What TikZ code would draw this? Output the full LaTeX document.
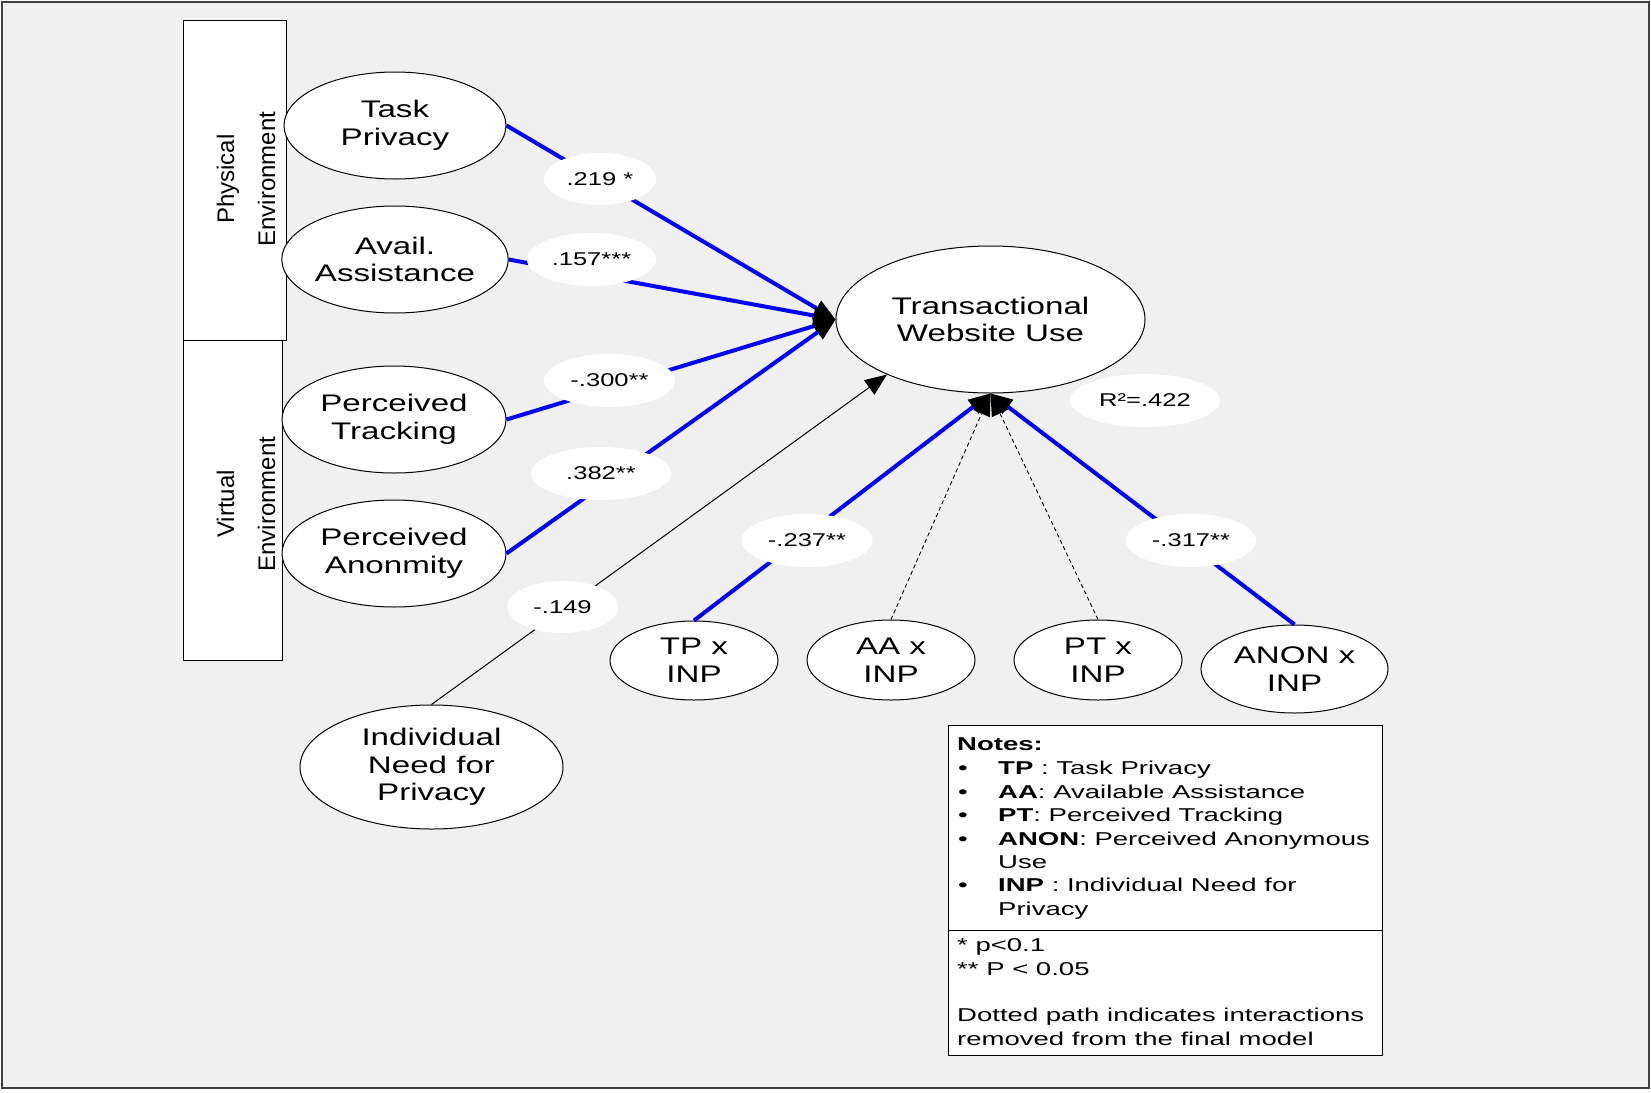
\documentclass[tikz,border=0pt]{standalone}
\usepackage{fontspec}
\setmainfont{Liberation Sans}[FakeStretch=1.38]
\newfontfamily\notefont{Liberation Sans}[FakeStretch=1.48]
\newfontfamily\rotfont{Liberation Sans}
\usetikzlibrary{shapes.geometric,arrows.meta}
\definecolor{bg}{HTML}{F0F0F0}
\definecolor{pathblue}{HTML}{0000FF}
\tikzset{
  construct/.style={draw=black, line width=1pt, fill=white, ellipse, inner sep=0pt, align=center,
    font=\fontsize{24}{27.7}\selectfont},
  coef/.style={fill=white, ellipse, inner sep=0pt, font=\fontsize{18.5}{22}\selectfont},
  envbox/.style={draw=black, line width=1pt, fill=white, inner sep=0pt, anchor=north west},
  envlabel/.style={rotate=90, align=center, inner sep=0pt, font=\rotfont\fontsize{24}{41}\selectfont},
  headtip/.style={-{Triangle[length=22pt,width=18pt,line width=0pt,black]}},
  sigpath/.style={draw=pathblue, line width=4pt, headtip},
  nspath/.style={draw=black, line width=1pt, headtip},
  droppath/.style={draw=black, line width=0.9pt, dash pattern=on 4pt off 3pt, headtip},
  note/.style={anchor=base west, inner sep=0pt, font=\notefont\fontsize{18.6}{23.4}\selectfont},
  notebox/.style={draw=black, line width=1pt, fill=white, inner sep=0pt, anchor=north west},
}
\begin{document}
\begin{tikzpicture}[x=1pt,y=-1pt]
\useasboundingbox (0,0) rectangle (1651,1092);
\fill[white] (0,0) rectangle (1651,1092);
\draw[fill=bg, draw=black!75, line width=2.5pt] (2,2) rectangle (1649,1088);

% environment boxes
\node[envbox, minimum width=103.5pt, minimum height=320.5pt] (physbox) at (182.5,19.5) {};
\node[envbox, minimum width=99.5pt, minimum height=320pt] (virtbox) at (182.5,340) {};
\node[envlabel] (physlabel) at (246,179) {Physical\\Environment};
\node[envlabel] (virtlabel) at (246,504) {Virtual\\Environment};

% constructs
\node[construct, minimum width=222pt, minimum height=107pt] (tp) at (395,125.5) {Task\\Privacy};
\node[construct, minimum width=221pt, minimum height=107pt] (aa) at (395,259.5) {Avail.\\Assistance};
\node[construct, minimum width=224pt, minimum height=107pt] (ptr) at (394,419.5) {Perceived\\Tracking};
\node[construct, minimum width=224pt, minimum height=107pt] (pa) at (394,553.5) {Perceived\\Anonmity};
\node[construct, minimum width=263pt, minimum height=124pt] (inp) at (431.5,767) {Individual\\Need for\\Privacy};
\node[construct, minimum width=309pt, minimum height=147pt] (tw) at (990.5,319.5) {Transactional\\Website Use};
\node[construct, minimum width=168pt, minimum height=79pt] (tpinp) at (694,660.5) {TP x\\INP};
\node[construct, minimum width=168pt, minimum height=80pt] (aainp) at (891,660) {AA x\\INP};
\node[construct, minimum width=168pt, minimum height=80pt] (ptinp) at (1098,660) {PT x\\INP};
\node[construct, minimum width=187pt, minimum height=88pt] (aninp) at (1294.5,669) {ANON x\\INP};

% paths
\draw[sigpath] (tp.east) -- (tw.west);
\draw[sigpath] (aa.east) -- (tw.west);
\draw[sigpath] (ptr.east) -- (tw.west);
\draw[sigpath] (pa.east) -- (tw.west);
\draw[nspath] (inp.north) -- (tw.208);
\draw[sigpath] (tpinp.north) -- (tw.south);
\draw[droppath] (aainp.north) -- (tw.south);
\draw[droppath] (ptinp.north) -- (tw.south);
\draw[sigpath] (aninp.north) -- (tw.south);

% coefficients
\node[coef, minimum width=112pt, minimum height=52pt] (c1) at (600,179) {.219 *};
\node[coef, minimum width=129pt, minimum height=53pt] (c2) at (591.5,259.5) {.157***};
\node[coef, minimum width=131pt, minimum height=53pt] (c3) at (609.5,380.5) {-.300**};
\node[coef, minimum width=140pt, minimum height=53pt] (c4) at (601,473.5) {.382**};
\node[coef, minimum width=111pt, minimum height=52pt] (c5) at (562.5,607) {-.149};
\node[coef, minimum width=131pt, minimum height=53pt] (c6) at (807,540.5) {-.237**};
\node[coef, minimum width=130pt, minimum height=53pt] (c7) at (1191,540.5) {-.317**};
\node[coef, minimum width=150pt, minimum height=53pt] (r2) at (1145,400.5) {R²=.422};

% notes
\node[notebox, minimum width=434pt, minimum height=330pt] (nbox) at (947.5,724.5) {};
\path (nbox.north west) ++(0,205.5) coordinate (divl);
\path (nbox.north east) ++(0,205.5) coordinate (divr);
\draw[line width=1pt] (divl) -- (divr);
\node[note] (n0) at (957,750.7) {\textbf{Notes:}};
\node[note] (b1) at (958,774.3) {•};
\node[note] (b2) at (958,798.3) {•};
\node[note] (b3) at (958,821.7) {•};
\node[note] (b4) at (958,845) {•};
\node[note] (b5) at (958,891.7) {•};
\node[note] (n1) at (998,774.3) {\textbf{TP} : Task Privacy};
\node[note] (n2) at (998,798.3) {\textbf{AA}: Available Assistance};
\node[note] (n3) at (998,821.7) {\textbf{PT}: Perceived Tracking};
\node[note] (n4) at (998,845) {\textbf{ANON}: Perceived Anonymous};
\node[note] (n5) at (998,868.3) {Use};
\node[note] (n6) at (998,891.7) {\textbf{INP} : Individual Need for};
\node[note] (n7) at (998,915) {Privacy};
\node[note] (n8) at (957,951.7) {* p<0.1};
\node[note] (n9) at (957,975) {** P < 0.05};
\node[note] (n10) at (957,1021.7) {Dotted path indicates interactions};
\node[note] (n11) at (957,1045) {removed from the final model};
\end{tikzpicture}
\end{document}
